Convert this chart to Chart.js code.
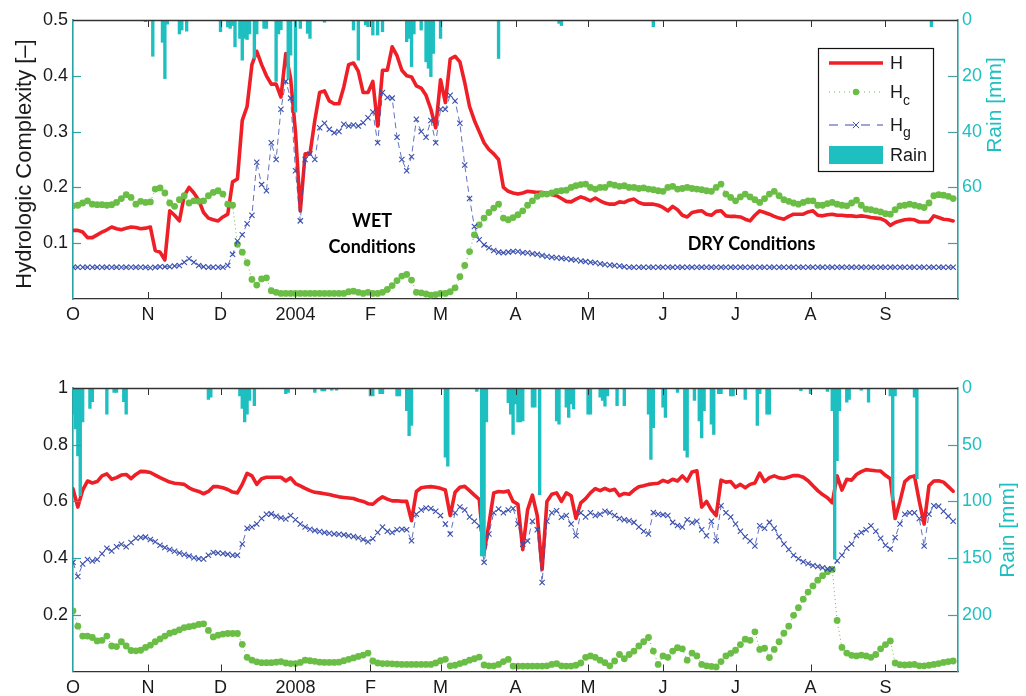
<!DOCTYPE html>
<html><head><meta charset="utf-8">
<script src="https://cdn.jsdelivr.net/npm/chart.js@4.4.1/dist/chart.umd.min.js"></script>
<style>
html,body{margin:0;padding:0;background:#fff;}
#wrap{position:relative;width:1026px;height:696px;overflow:hidden;}
canvas{position:absolute;left:0;}
</style></head><body>
<div id="wrap">
<canvas id="c1" width="1026" height="348" style="top:0px"></canvas>
<canvas id="c2" width="1026" height="348" style="top:348px"></canvas>
</div>
<script>
// ---------- data ----------
const monthDays = [0,31,61,92,123,152,183,213,244,274,305,336];
const monthLabelsTop = ['O','N','D','2004','F','M','A','M','J','J','A','S'];
const monthLabelsBottom = ['O','N','D','2008','F','M','A','M','J','J','A','S'];
const STEP = 2; // values below are read every 2 days from 1 October

// Top panel: Oct 2003 - Sep 2004
const hTop = [
0.123,0.123,0.12,0.11,0.11,0.115,0.12,0.124,0.129,0.126,
0.124,0.127,0.129,0.128,0.126,0.127,0.129,0.087,0.084,0.07,
0.158,0.15,0.14,0.185,0.2,0.19,0.177,0.155,0.145,0.142,
0.14,0.147,0.152,0.21,0.215,0.32,0.345,0.42,0.444,0.42,
0.4,0.385,0.385,0.362,0.44,0.395,0.3,0.158,0.26,0.26,
0.32,0.37,0.373,0.355,0.35,0.35,0.38,0.42,0.423,0.408,
0.37,0.37,0.39,0.31,0.41,0.41,0.452,0.436,0.41,0.4,
0.398,0.382,0.378,0.365,0.34,0.307,0.393,0.352,0.43,0.435,
0.425,0.388,0.345,0.32,0.3,0.28,0.268,0.26,0.25,0.2,
0.193,0.19,0.188,0.19,0.193,0.192,0.191,0.191,0.19,0.187,
0.185,0.18,0.175,0.174,0.179,0.183,0.18,0.176,0.181,0.176,
0.172,0.17,0.17,0.174,0.173,0.177,0.179,0.173,0.17,0.17,
0.17,0.168,0.164,0.158,0.166,0.16,0.15,0.147,0.155,0.157,
0.158,0.152,0.15,0.157,0.158,0.149,0.148,0.148,0.147,0.143,
0.14,0.15,0.158,0.155,0.152,0.148,0.145,0.143,0.148,0.152,
0.152,0.152,0.156,0.158,0.15,0.149,0.151,0.152,0.15,0.15,
0.149,0.149,0.148,0.149,0.148,0.146,0.145,0.144,0.14,0.132,
0.137,0.14,0.142,0.143,0.142,0.138,0.138,0.138,0.149,0.146,
0.143,0.142,0.14];
const hcTop = [
0.167,0.168,0.172,0.176,0.17,0.169,0.169,0.168,0.169,0.173,
0.18,0.187,0.182,0.17,0.175,0.173,0.174,0.197,0.199,0.19,
0.172,0.166,0.178,0.185,0.172,0.176,0.175,0.176,0.185,0.191,
0.194,0.188,0.17,0.168,0.098,0.084,0.065,0.035,0.025,0.036,
0.038,0.015,0.012,0.01,0.01,0.01,0.01,0.01,0.01,0.01,
0.01,0.01,0.01,0.01,0.01,0.01,0.01,0.013,0.014,0.012,
0.01,0.012,0.01,0.01,0.012,0.017,0.024,0.033,0.041,0.044,
0.034,0.012,0.011,0.009,0.007,0.008,0.01,0.01,0.013,0.02,
0.04,0.06,0.085,0.115,0.133,0.145,0.155,0.163,0.17,0.145,
0.142,0.146,0.151,0.158,0.168,0.176,0.184,0.188,0.188,0.19,
0.193,0.194,0.195,0.2,0.203,0.205,0.206,0.2,0.197,0.2,
0.2,0.206,0.204,0.202,0.203,0.2,0.2,0.198,0.199,0.197,
0.196,0.194,0.193,0.2,0.202,0.197,0.198,0.2,0.198,0.197,
0.196,0.194,0.193,0.2,0.206,0.188,0.182,0.176,0.183,0.188,
0.183,0.178,0.173,0.18,0.188,0.193,0.185,0.178,0.175,0.172,
0.17,0.173,0.176,0.176,0.168,0.168,0.171,0.173,0.17,0.168,
0.167,0.172,0.177,0.168,0.161,0.16,0.158,0.156,0.153,0.152,
0.16,0.167,0.168,0.17,0.168,0.166,0.164,0.172,0.185,0.187,
0.186,0.184,0.18];
const hgTop = [
0.057,0.057,0.057,0.057,0.057,0.057,0.057,0.057,0.057,0.057,
0.057,0.057,0.057,0.057,0.057,0.057,0.056,0.057,0.058,0.058,
0.058,0.059,0.06,0.066,0.072,0.066,0.06,0.058,0.057,0.057,
0.057,0.057,0.06,0.08,0.104,0.115,0.135,0.15,0.245,0.205,
0.194,0.28,0.25,0.34,0.39,0.36,0.23,0.14,0.25,0.26,
0.25,0.307,0.315,0.304,0.298,0.3,0.313,0.31,0.312,0.31,
0.316,0.325,0.335,0.28,0.37,0.361,0.36,0.29,0.25,0.23,
0.255,0.322,0.3,0.29,0.32,0.28,0.34,0.34,0.365,0.355,
0.315,0.24,0.18,0.13,0.106,0.097,0.092,0.087,0.084,0.083,
0.084,0.085,0.085,0.083,0.083,0.081,0.08,0.078,0.076,0.075,
0.074,0.073,0.072,0.071,0.07,0.068,0.067,0.066,0.065,0.063,
0.062,0.061,0.06,0.059,0.058,0.057,0.057,0.057,0.057,0.057,
0.057,0.057,0.057,0.057,0.057,0.057,0.057,0.057,0.057,0.057,
0.057,0.057,0.057,0.057,0.057,0.057,0.057,0.057,0.057,0.057,
0.057,0.057,0.057,0.057,0.057,0.057,0.057,0.057,0.057,0.057,
0.057,0.057,0.057,0.057,0.057,0.057,0.057,0.057,0.057,0.057,
0.057,0.057,0.057,0.057,0.057,0.057,0.057,0.057,0.057,0.057,
0.057,0.057,0.057,0.057,0.057,0.057,0.057,0.057,0.057,0.057,
0.057,0.057,0.057];
const rainTopDays = [30,33,37,38,39,44,45,47,61,64,65,66,67,69,70,71,72,73,75,76,79,80,84,85,86,89,90,92,94,97,98,104,116,118,121,122,124,126,128,138,139,140,141,144,146,147,148,149,152,176,201,202,240,355];
const rainTopMm   = [0.6,13,8,21,1.5,5,3.6,4,4.2,2.5,3,2,9.6,6.6,14.4,6.6,7,5,13.8,5,3,3,22,5,3.5,21,12.6,33,3,4.8,6.6,0.8,3.6,14.4,1.8,2.4,5.4,5.4,4.2,7.8,6.6,16.7,5,3.6,15,17.3,20.3,12,6.6,13.8,1.2,2,2.4,2.4];

// Bottom panel: Oct 2007 - Sep 2008
const hBot = [
0.644,0.58,0.64,0.672,0.665,0.67,0.69,0.697,0.678,0.684,
0.693,0.695,0.68,0.695,0.706,0.705,0.702,0.693,0.684,0.676,
0.668,0.664,0.662,0.66,0.648,0.64,0.635,0.627,0.635,0.652,
0.652,0.648,0.642,0.633,0.63,0.66,0.699,0.69,0.66,0.68,
0.685,0.685,0.685,0.685,0.672,0.683,0.663,0.655,0.646,0.638,
0.632,0.63,0.627,0.624,0.62,0.616,0.614,0.612,0.61,0.604,
0.6,0.592,0.59,0.605,0.616,0.608,0.602,0.602,0.6,0.6,
0.532,0.635,0.648,0.651,0.652,0.65,0.646,0.64,0.55,0.632,
0.65,0.653,0.638,0.622,0.607,0.42,0.52,0.63,0.635,0.633,
0.637,0.6,0.59,0.43,0.57,0.622,0.55,0.36,0.6,0.625,
0.63,0.6,0.63,0.62,0.54,0.595,0.61,0.63,0.645,0.638,
0.646,0.638,0.643,0.62,0.628,0.625,0.64,0.652,0.655,0.66,
0.662,0.664,0.674,0.668,0.678,0.672,0.69,0.672,0.704,0.708,
0.58,0.6,0.57,0.55,0.675,0.668,0.67,0.65,0.66,0.648,
0.66,0.665,0.7,0.67,0.684,0.69,0.683,0.681,0.686,0.691,
0.691,0.685,0.673,0.655,0.638,0.624,0.613,0.595,0.69,0.64,
0.678,0.675,0.695,0.705,0.712,0.71,0.708,0.707,0.692,0.68,
0.54,0.6,0.67,0.685,0.69,0.6,0.52,0.655,0.672,0.673,
0.668,0.652,0.636];
const hcBot = [
0.214,0.16,0.125,0.125,0.12,0.108,0.11,0.125,0.09,0.088,
0.105,0.09,0.074,0.073,0.075,0.085,0.093,0.105,0.115,0.125,
0.135,0.14,0.147,0.155,0.158,0.161,0.166,0.168,0.145,0.122,
0.128,0.132,0.134,0.134,0.134,0.096,0.05,0.04,0.034,0.031,
0.031,0.031,0.033,0.035,0.03,0.028,0.028,0.032,0.04,0.038,
0.036,0.033,0.032,0.032,0.032,0.033,0.038,0.043,0.048,0.053,
0.058,0.065,0.037,0.03,0.028,0.028,0.027,0.026,0.025,0.025,
0.025,0.025,0.025,0.025,0.025,0.03,0.038,0.043,0.02,0.022,
0.028,0.033,0.04,0.045,0.051,0.023,0.02,0.02,0.025,0.035,
0.043,0.019,0.019,0.019,0.019,0.019,0.019,0.019,0.02,0.025,
0.028,0.02,0.019,0.019,0.022,0.03,0.05,0.055,0.05,0.04,
0.031,0.02,0.037,0.06,0.045,0.06,0.072,0.09,0.105,0.12,
0.072,0.025,0.055,0.05,0.072,0.084,0.08,0.04,0.065,0.055,
0.025,0.02,0.018,0.016,0.035,0.055,0.064,0.075,0.095,0.114,
0.11,0.14,0.078,0.082,0.049,0.078,0.105,0.135,0.16,0.198,
0.225,0.255,0.28,0.302,0.322,0.338,0.352,0.36,0.18,0.085,
0.065,0.057,0.055,0.058,0.055,0.05,0.06,0.08,0.095,0.108,
0.03,0.024,0.023,0.024,0.025,0.02,0.02,0.022,0.025,0.028,
0.032,0.035,0.037];
const hgBot = [
0.385,0.335,0.379,0.395,0.39,0.395,0.415,0.435,0.425,0.44,
0.449,0.44,0.455,0.47,0.473,0.474,0.466,0.458,0.445,0.437,
0.43,0.424,0.418,0.413,0.407,0.401,0.398,0.397,0.41,0.42,
0.418,0.416,0.414,0.41,0.41,0.45,0.505,0.51,0.52,0.54,
0.555,0.556,0.548,0.542,0.538,0.55,0.535,0.52,0.51,0.502,
0.497,0.494,0.49,0.488,0.485,0.484,0.482,0.479,0.476,0.472,
0.466,0.458,0.468,0.49,0.51,0.495,0.49,0.5,0.502,0.5,
0.461,0.555,0.57,0.577,0.575,0.565,0.55,0.52,0.485,0.56,
0.58,0.57,0.545,0.53,0.514,0.385,0.485,0.56,0.573,0.56,
0.57,0.575,0.52,0.449,0.46,0.53,0.5,0.314,0.53,0.56,
0.567,0.544,0.55,0.52,0.479,0.56,0.545,0.56,0.55,0.555,
0.565,0.56,0.55,0.54,0.535,0.532,0.526,0.51,0.495,0.485,
0.561,0.555,0.553,0.55,0.526,0.515,0.51,0.535,0.525,0.53,
0.5,0.479,0.53,0.461,0.585,0.56,0.545,0.52,0.495,0.475,
0.46,0.443,0.514,0.505,0.526,0.505,0.475,0.45,0.43,0.41,
0.398,0.387,0.381,0.374,0.37,0.366,0.362,0.361,0.391,0.41,
0.435,0.45,0.48,0.49,0.5,0.514,0.495,0.47,0.445,0.432,
0.473,0.52,0.555,0.56,0.56,0.54,0.443,0.555,0.585,0.583,
0.565,0.548,0.53];
const rainBotDays = [0,1,2,3,4,7,8,14,17,18,21,22,56,57,69,70,71,72,73,75,88,89,100,103,104,107,109,123,124,127,128,134,135,138,139,140,154,155,167,169,170,171,180,181,182,183,184,185,186,190,191,193,200,201,204,205,206,207,213,214,218,219,220,221,225,228,238,239,240,244,245,250,253,254,257,259,260,261,264,265,267,268,272,273,278,283,284,287,288,301,305,312,314,315,316,317,320,321,326,329,338,339,340,348,349];
const rainBotMm   = [23,36,60,95,30,18,12,23,4,4,12,23,10,8,7,18,30,23,11,15.6,5,4,4,2.5,2.5,2,2,7,7,5,5,7,7,20,42,33,61,69,3,148,148,30,13,23,41,14,30,30,29,17,17,94,29,32,17,26,14,18.5,23,23,8,11,16,7,15.6,15.6,23,63,35,17,26,4,55,61,11,29,44,20,32,41,5,5,7,7,10,33,5,23,23,2.4,5,3,20,151,64,20,12.6,10,2,12.6,7,99,7,8,80];

// ---------- styles ----------
const TEAL = '#2aa3a3';
const CYAN = '#1dbfc0';
const RED = '#ee1f26';
const GREEN = '#6abd45';
const BLUE = '#3a4fae';
const INK = '#1a1a1a';
const FONT = "'Liberation Sans', Arial, Helvetica, sans-serif";

const frameCfg = {
  c1: {
    leftTitle: {x: 25, y: 164},
    rightTitle: {x: 995, y: 105},
    notes: [
      {lines: ['WET', 'Conditions'], day: 123.7, value: 0.129, lh: 26},
      {lines: ['DRY Conditions'], day: 280.6, value: 0.088, lh: 26}
    ],
    legend: {x: 818, y: 48, w: 115, h: 123}
  },
  c2: {
    leftTitle: {x: 25, y: 531},
    rightTitle: {x: 1008, y: 530 - 348},
    notes: [],
    legend: null
  }
};

function rotText(ctx, t, x, y) {
  ctx.save(); ctx.translate(x, y); ctx.rotate(-Math.PI / 2);
  ctx.textAlign = 'center'; ctx.textBaseline = 'middle';
  ctx.fillText(t, 0, 0); ctx.restore();
}
function line(ctx, x1, y1, x2, y2) { ctx.beginPath(); ctx.moveTo(x1, y1); ctx.lineTo(x2, y2); ctx.stroke(); }

function drawLegend(ctx, L) {
  ctx.save();
  ctx.fillStyle = '#fff'; ctx.fillRect(L.x, L.y, L.w, L.h);
  ctx.strokeStyle = '#111'; ctx.lineWidth = 1.2; ctx.strokeRect(L.x + 0.5, L.y + 0.5, L.w, L.h);
  const x1 = L.x + 11, x2 = L.x + 65, xm = (x1 + x2) / 2, tx = L.x + 72;
  const rows = [L.y + 15, L.y + 44, L.y + 77, L.y + 107];
  ctx.strokeStyle = RED; ctx.lineWidth = 3.6; line(ctx, x1, rows[0], x2, rows[0]);
  ctx.strokeStyle = GREEN; ctx.lineWidth = 1.2; ctx.setLineDash([1, 4]); line(ctx, x1, rows[1], x2, rows[1]);
  ctx.setLineDash([]); ctx.fillStyle = GREEN; ctx.beginPath(); ctx.arc(xm, rows[1], 3.2, 0, Math.PI * 2); ctx.fill();
  ctx.strokeStyle = BLUE; ctx.lineWidth = 1; ctx.setLineDash([9, 7]); line(ctx, x1, rows[2], x2, rows[2]);
  ctx.setLineDash([]); const r = 3.2;
  line(ctx, xm - r, rows[2] - r, xm + r, rows[2] + r); line(ctx, xm - r, rows[2] + r, xm + r, rows[2] - r);
  ctx.fillStyle = CYAN; ctx.fillRect(x1, rows[3] - 9, x2 - x1, 18);
  ctx.fillStyle = INK; ctx.textAlign = 'left'; ctx.textBaseline = 'middle';
  ctx.font = '18px ' + FONT;
  ctx.fillText('H', tx, rows[0] + 1);
  ctx.fillText('H', tx, rows[1] + 1);
  ctx.fillText('H', tx, rows[2] + 1);
  ctx.fillText('Rain', tx, rows[3] + 1);
  const hw = ctx.measureText('H').width;
  ctx.font = '14px ' + FONT;
  ctx.fillText('c', tx + hw, rows[1] + 9);
  ctx.fillText('g', tx + hw, rows[2] + 8);
  ctx.restore();
}

const framePlugin = {
  id: 'frame',
  afterDraw(chart) {
    const o = frameCfg[chart.canvas.id];
    const {ctx, chartArea: a, scales} = chart;
    const xs = scales.x, yl = scales.y, yr = scales.rain;
    ctx.save();
    ctx.strokeStyle = '#333'; ctx.lineWidth = 1.3;
    line(ctx, a.left, a.top + 0.5, a.right, a.top + 0.5);
    ctx.lineWidth = 1;
    monthDays.forEach(d => {
      if (d === 0) return;
      const px = Math.round(xs.getPixelForValue(d)) + 0.5;
      line(ctx, px, a.bottom, px, a.bottom - 7);
      line(ctx, px, a.top, px, a.top + 7);
    });
    ctx.strokeStyle = TEAL; ctx.lineWidth = 1.2;
    yl.ticks.forEach(t => {
      if (t.value <= yl.min || t.value >= yl.max) return;
      const py = Math.round(yl.getPixelForValue(t.value)) + 0.5;
      line(ctx, a.left, py, a.left + 8, py);
    });
    ctx.strokeStyle = '#4e9c9c';
    yr.ticks.forEach(t => {
      if (t.value <= yr.min || t.value >= yr.max) return;
      const py = Math.round(yr.getPixelForValue(t.value)) + 0.5;
      line(ctx, a.right - 10, py, a.right, py);
    });
    ctx.fillStyle = INK; ctx.font = '22px ' + FONT;
    rotText(ctx, 'Hydrologic Complexity [\u2013]', o.leftTitle.x, o.leftTitle.y);
    ctx.fillStyle = CYAN; ctx.font = '21px ' + FONT;
    rotText(ctx, 'Rain [mm]', o.rightTitle.x, o.rightTitle.y);
    ctx.fillStyle = '#000'; ctx.font = 'bold 18px Lato, "Open Sans", sans-serif';
    ctx.textAlign = 'center'; ctx.textBaseline = 'alphabetic';
    o.notes.forEach(n => {
      const px = xs.getPixelForValue(n.day), py = yl.getPixelForValue(n.value);
      n.lines.forEach((t, i) => ctx.fillText(t, px, py + i * n.lh));
    });
    if (o.legend) drawLegend(ctx, o.legend);
    ctx.restore();
  }
};

function buildChart(id, p) {
  const xy = vals => vals.map((v, i) => ({x: i * STEP, y: v}));
  return new Chart(document.getElementById(id), {
    type: 'line',
    data: {
      datasets: [
        {type: 'bar', label: 'Rain', yAxisID: 'rain',
         data: p.rainDays.map((d, i) => ({x: d, y: p.rainMm[i]})),
         backgroundColor: CYAN, borderWidth: 0, barThickness: 2.7, grouped: false},
        {label: 'Hg', yAxisID: 'y', data: xy(p.hg),
         borderColor: 'rgba(58,79,174,0.8)', borderWidth: 1, borderDash: [6, 4],
         pointStyle: 'crossRot', pointRadius: 3.7, pointBorderColor: BLUE, pointBorderWidth: 1.1,
         pointBackgroundColor: BLUE, fill: false, tension: 0},
        {label: 'Hc', yAxisID: 'y', data: xy(p.hc),
         borderColor: GREEN, borderWidth: 1, borderDash: [1, 3],
         pointStyle: 'circle', pointRadius: 3.4, pointBorderWidth: 0,
         pointBackgroundColor: GREEN, fill: false, tension: 0},
        {label: 'H', yAxisID: 'y', data: xy(p.h),
         borderColor: RED, borderWidth: 3.6, pointRadius: 0,
         borderJoinStyle: 'round', borderCapStyle: 'round', fill: false, tension: 0}
      ]
    },
    options: {
      responsive: false, animation: false, devicePixelRatio: 1,
      layout: {padding: {top: p.padTop, left: 0, right: 0, bottom: 0}},
      plugins: {legend: {display: false}, tooltip: {enabled: false}},
      scales: {
        x: {type: 'linear', min: 0, max: 366, position: 'bottom', offset: false,
            afterFit: s => { s.height = p.xHeight; },
            afterBuildTicks: s => { s.ticks = monthDays.map(v => ({value: v})); },
            ticks: {autoSkip: false, maxRotation: 0, minRotation: 0, padding: p.xPad,
                    font: {family: FONT, size: 18}, color: INK,
                    callback: v => p.months[monthDays.indexOf(v)]},
            grid: {display: false, drawTicks: false},
            border: {display: true, color: '#333', width: 1.3}},
        y: {type: 'linear', position: 'left', min: 0, max: p.yMax,
            afterFit: s => { s.width = 73; },
            ticks: {stepSize: p.yStep, padding: 5, font: {family: FONT, size: 18}, color: INK,
                    callback: v => v === 0 ? '' : (v === 1 ? '1' : v.toFixed(1))},
            grid: {display: false, drawTicks: false},
            border: {display: true, color: TEAL, width: 1.6}},
        rain: {type: 'linear', position: 'right', min: 0, max: p.rainMax, reverse: true,
            afterFit: s => { s.width = 68; },
            ticks: {stepSize: p.rainStep, padding: 4, font: {family: FONT, size: 18}, color: CYAN,
                    callback: v => v <= p.rainLabelMax ? String(v) : ''},
            grid: {display: false, drawTicks: false},
            border: {display: true, color: TEAL, width: 1.6}}
      }
    },
    plugins: [framePlugin]
  });
}

buildChart('c1', {h: hTop, hc: hcTop, hg: hgTop, rainDays: rainTopDays, rainMm: rainTopMm,
  months: monthLabelsTop, padTop: 20, xHeight: 49, xPad: 5,
  yMax: 0.5, yStep: 0.1, rainMax: 100, rainStep: 20, rainLabelMax: 60});
buildChart('c2', {h: hBot, hc: hcBot, hg: hgBot, rainDays: rainBotDays, rainMm: rainBotMm,
  months: monthLabelsBottom, padTop: 40, xHeight: 24.5, xPad: 6,
  yMax: 1, yStep: 0.2, rainMax: 250, rainStep: 50, rainLabelMax: 200});
</script>
</body></html>
